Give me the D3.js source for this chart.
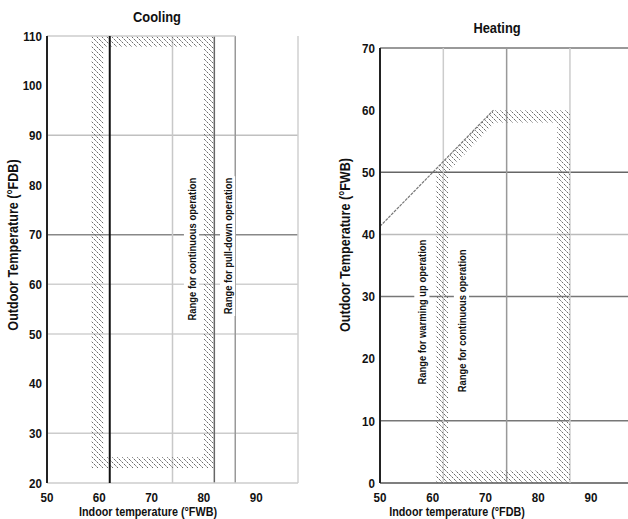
<!DOCTYPE html>
<meta charset="utf-8">
<body style="margin:0;background:#fff">
<div class="chart"></div>
<script src="https://d3js.org/d3.v7.min.js"></script>
<script>

    // ---- data ----
    const coolXTicks = [50, 60, 70, 80, 90];
    const coolYTicks = [20, 30, 40, 50, 60, 70, 80, 90, 100, 110];
    const coolGridX = [74, 82, 86, 98];
    const coolGridY = [90, 70, 60, 50, 30];
    const coolDivider = 62;
    const coolOuter = [[58.5, 23], [58.5, 110], [82, 110], [82, 23]];
    const coolInner = [[60.8, 25.2], [60.8, 107.8], [80, 107.8], [80, 25.2]];
    const coolLabels = [
        {text: "Range for continuous operation", x: 77.7, y: 67.1},
        {text: "Range for pull-down operation", x: 84.6, y: 67.7}
    ];

    const heatXTicks = [50, 60, 70, 80, 90];
    const heatYTicks = [0, 10, 20, 30, 40, 50, 60, 70];
    const heatGridX = [62, 74, 86];
    const heatGridY = [70, 50, 40, 30, 10, 0];
    const heatSlope = [[50, 41.3], [71.5, 60]];
    const heatOuter = [[60.6, 0], [60.6, 50.4], [71.5, 60], [86, 60], [86, 0]];
    const heatInner = [[62.9, 2], [62.9, 50.1], [71.8, 58], [83.6, 58], [83.6, 2]];
    const heatLabels = [
        {text: "Range for warming up operation", x: 58.0, y: 27.5},
        {text: "Range for continuous operation", x: 65.5, y: 26.1}
    ];

    // ---- styles ----
    const font = "'Liberation Sans', Arial, sans-serif";
    const coolGridXColor = ["#c8c8c8", "#666", "#999", "#d0d0d0"];
    const coolGridYColor = ["#c0c0c0", "#888", "#d0d0d0", "#d0d0d0", "#ccc"];
    const heatGridXColor = ["#ccc", "#999", "#ccc"];
    const heatGridYColor = ["#777", "#666", "#bbb", "#777", "#777", "#555"];

    const svg = d3.select(".chart").append("svg")
        .attr("width", 628).attr("height", 519)
        .style("font-family", font)
        .style("font-weight", "bold");

    const defs = svg.append("defs");
    const pat = defs.append("pattern")
        .attr("id", "hatch")
        .attr("patternUnits", "userSpaceOnUse")
        .attr("width", 5).attr("height", 5);
    pat.append("path")
        .attr("d", "M-1,-1 L6,6 M-1,4 L1,6 M4,-1 L6,1")
        .attr("stroke", "#6a6a6a")
        .attr("stroke-width", 1)
        .attr("stroke-dasharray", "2.5,1");

    // condensed bold text helper (no narrow face installed)
    function label(g, x, y, str, size, anchor, rot, sx) {
        return g.append("text")
            .attr("transform", `translate(${x},${y}) rotate(${rot || 0}) scale(${sx || 0.8},1)`)
            .attr("text-anchor", anchor)
            .attr("dy", "0.35em")
            .attr("font-size", size)
            .attr("fill", "#111")
            .text(str);
    }

    function panel(cfg) {
        const x = d3.scaleLinear().domain(cfg.xDomain).range(cfg.xRange);
        const y = d3.scaleLinear().domain(cfg.yDomain).range(cfg.yRange);
        const g = svg.append("g");
        const [x0, x1] = cfg.xRange;
        const [y0, y1] = cfg.yRange;

        // horizontal grid
        g.selectAll(".hg").data(cfg.gridY).join("line")
            .attr("x1", x0).attr("x2", x1)
            .attr("y1", d => y(d)).attr("y2", d => y(d))
            .attr("stroke", (d, i) => cfg.gridYColor[i])
            .attr("stroke-width", 1.5);

        // vertical grid
        g.selectAll(".vg").data(cfg.gridX).join("line")
            .attr("x1", d => x(d)).attr("x2", d => x(d))
            .attr("y1", y0).attr("y2", y1)
            .attr("stroke", (d, i) => cfg.gridXColor[i])
            .attr("stroke-width", 1.5);

        // hatched operating range
        const line = d3.line().x(d => x(d[0])).y(d => y(d[1]));
        g.append("path")
            .attr("d", line(cfg.outer) + "Z" + line(cfg.inner) + "Z")
            .attr("fill", "url(#hatch)")
            .attr("fill-rule", "evenodd");

        if (cfg.extra) cfg.extra(g, x, y);

        // left axis
        g.append("line")
            .attr("x1", x0).attr("x2", x0).attr("y1", y0).attr("y2", y1)
            .attr("stroke", "#222").attr("stroke-width", 2);

        // annotations with white backing
        cfg.labels.forEach(l => {
            const txt = label(g, x(l.x), y(l.y), l.text, 11.5, "middle", -90, 0.82);
            const bb = txt.node().getBBox();
            g.insert("rect", () => txt.node())
                .attr("transform", txt.attr("transform"))
                .attr("x", bb.x - 2).attr("y", bb.y - 1)
                .attr("width", bb.width + 4).attr("height", bb.height + 2)
                .attr("fill", "#fff");
        });

        // ticks
        cfg.yTicks.forEach(d => label(g, x0 - 5, y(d), d, 13.5, "end", 0, 0.86));
        cfg.xTicks.forEach(d => label(g, x(d), y0 + 14, d, 13.5, "middle", 0, 0.86));

        // titles
        label(g, cfg.titleX, cfg.titleY, cfg.title, 15, "middle", 0, 0.86);
        label(g, cfg.xTitleX, 511, cfg.xTitle, 13.5, "middle", 0, 0.8);
        label(g, cfg.yTitleX, 245, cfg.yTitle, 15, "middle", -90, 0.84);
    }

    panel({
        xDomain: [50, 98], xRange: [47, 298],
        yDomain: [20, 110], yRange: [483, 36],
        xTicks: coolXTicks, yTicks: coolYTicks,
        gridX: coolGridX, gridXColor: coolGridXColor,
        gridY: coolGridY, gridYColor: coolGridYColor,
        outer: coolOuter, inner: coolInner,
        labels: coolLabels,
        title: "Cooling", titleX: 157, titleY: 17,
        xTitle: "Indoor temperature (°FWB)", xTitleX: 148,
        yTitle: "Outdoor Temperature (°FDB)", yTitleX: 13,
        extra: (g, x, y) => {
            g.append("line")
                .attr("x1", x(50)).attr("x2", x(86))
                .attr("y1", y(110)).attr("y2", y(110))
                .attr("stroke", "#ccc").attr("stroke-width", 1.5);
            g.append("line")
                .attr("x1", x(50)).attr("x2", x(98))
                .attr("y1", y(20)).attr("y2", y(20))
                .attr("stroke", "#ccc").attr("stroke-width", 1.5);
            g.append("line")
                .attr("x1", x(coolDivider)).attr("x2", x(coolDivider))
                .attr("y1", y(20)).attr("y2", y(110))
                .attr("stroke", "#111").attr("stroke-width", 2);
        }
    });

    panel({
        xDomain: [50, 97], xRange: [380, 628],
        yDomain: [0, 70], yRange: [483, 48],
        xTicks: heatXTicks, yTicks: heatYTicks,
        gridX: heatGridX, gridXColor: heatGridXColor,
        gridY: heatGridY, gridYColor: heatGridYColor,
        outer: heatOuter, inner: heatInner,
        labels: heatLabels,
        title: "Heating", titleX: 497, titleY: 28,
        xTitle: "Indoor temperature (°FDB)", xTitleX: 457,
        yTitle: "Outdoor Temperature (°FWB)", yTitleX: 345,
        extra: (g, x, y) => {
            g.append("path")
                .attr("d", d3.line().x(d => x(d[0])).y(d => y(d[1]))(heatSlope))
                .attr("fill", "none")
                .attr("stroke", "#777")
                .attr("stroke-width", 1.2)
                .attr("stroke-dasharray", "3,1");
        }
    });

</script>
